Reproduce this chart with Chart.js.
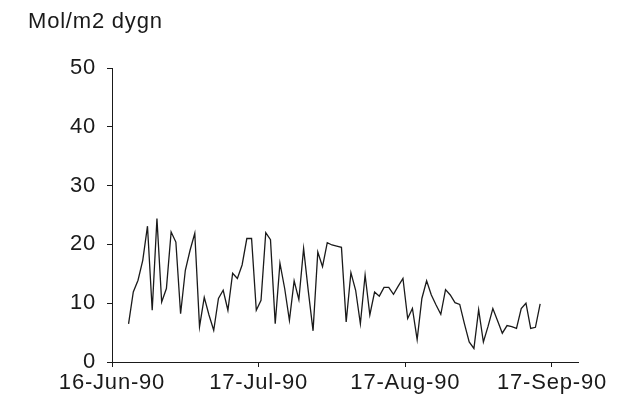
<!DOCTYPE html>
<html>
<head>
<meta charset="utf-8">
<script src="https://cdn.jsdelivr.net/npm/chart.js@4.4.1/dist/chart.umd.min.js"></script>
<style>
  html, body { margin: 0; padding: 0; background: #fff; }
  #wrap { width: 617px; height: 414px; }
</style>
</head>
<body>
<div id="wrap"><canvas id="chartPar" width="617" height="414"></canvas></div>
<script>
// day 0 = 16-Jun-90, one value per day
const firstDay = 3; // 19-Jun-90
const parValues = [
  6.5, 11.9, 13.9, 17.3, 23.1, 8.8, 24.4, 10.2, 12.5, 22.1,
  20.4, 8.2, 15.6, 19.0, 21.9, 6.0, 11.0, 8.0, 5.4, 10.8,
  12.2, 8.8, 15.1, 14.2, 16.5, 21.0, 21.0, 8.8, 10.5, 22.0,
  20.8, 6.5, 16.8, 12.5, 7.1, 13.8, 10.6, 19.3, 12.0, 5.3,
  18.7, 16.2, 20.3, 19.9, 19.7, 19.5, 6.8, 15.2, 12.2, 6.5,
  14.8, 8.0, 11.9, 11.2, 12.7, 12.7, 11.5, 12.9, 14.2, 7.4,
  9.1, 3.8, 10.8, 13.8, 11.4, 9.7, 8.1, 12.3, 11.4, 10.1,
  9.8, 6.5, 3.4, 2.3, 8.9, 3.4, 6.1, 9.1, 7.0, 4.9,
  6.2, 6.0, 5.7, 9.1, 10.0, 5.7, 5.9, 9.9
];
const xTickDays = [0, 31, 62, 93];
const xTickLabels = ['16-Jun-90', '17-Jul-90', '17-Aug-90', '17-Sep-90'];
const yMin = 0, yMax = 50, yStep = 10;
const unitLabel = 'Mol/m2 dygn';

const fontFamily = "'Liberation Sans', Arial, sans-serif";
const fontSize = 22;
const ink = '#1a1a1a';

// points sit in the middle of their day
const points = parValues.map((v, i) => ({ x: firstDay + i + 0.5, y: v }));

// the scanned lettering is a little wider than plain Arial
const wideText = {
    id: 'wideText',
    beforeLayout(chart) { chart.ctx.letterSpacing = '0.8px'; },
    beforeDraw(chart) { chart.ctx.letterSpacing = '0.8px'; }
};

const unitTitle = {
    id: 'unitTitle',
    afterDraw(chart) {
        const c = chart.ctx;
        c.save();
        c.font = fontSize + 'px ' + fontFamily;
        c.fillStyle = ink;
        c.textBaseline = 'top';
        c.textAlign = 'left';
        c.fillText(unitLabel, 28, 11);
        c.restore();
    }
};

const ctx = document.getElementById('chartPar').getContext('2d');
new Chart(ctx, {
    type: 'line',
    data: {
        datasets: [{
            data: points,
            borderColor: ink,
            borderWidth: 1.3,
            pointRadius: 0,
            tension: 0,
            fill: false
        }]
    },
    options: {
        responsive: false,
        animation: false,
        layout: { padding: { left: 0, top: 68, right: 39, bottom: 0 } },
        plugins: {
            legend: { display: false },
            tooltip: { enabled: false }
        },
        scales: {
            x: {
                type: 'linear',
                min: 0,
                max: 98.5,
                afterBuildTicks: scale => {
                    scale.ticks = xTickDays.map(d => ({ value: d }));
                },
                afterFit: scale => { scale.height = 52; },
                ticks: {
                    autoSkip: false,
                    maxRotation: 0,
                    padding: 3,
                    color: ink,
                    font: { family: fontFamily, size: fontSize },
                    callback: (value, index) => xTickLabels[index]
                },
                grid: { drawOnChartArea: false, tickLength: 5, color: ink },
                border: { color: ink, width: 1 }
            },
            y: {
                min: yMin,
                max: yMax,
                afterFit: scale => { scale.width = 112; },
                ticks: {
                    stepSize: yStep,
                    padding: 11,
                    color: ink,
                    font: { family: fontFamily, size: fontSize }
                },
                grid: { drawOnChartArea: false, tickLength: 5, color: ink },
                border: { color: ink, width: 1 }
            }
        }
    },
    plugins: [wideText, unitTitle]
});
</script>
</body>
</html>
